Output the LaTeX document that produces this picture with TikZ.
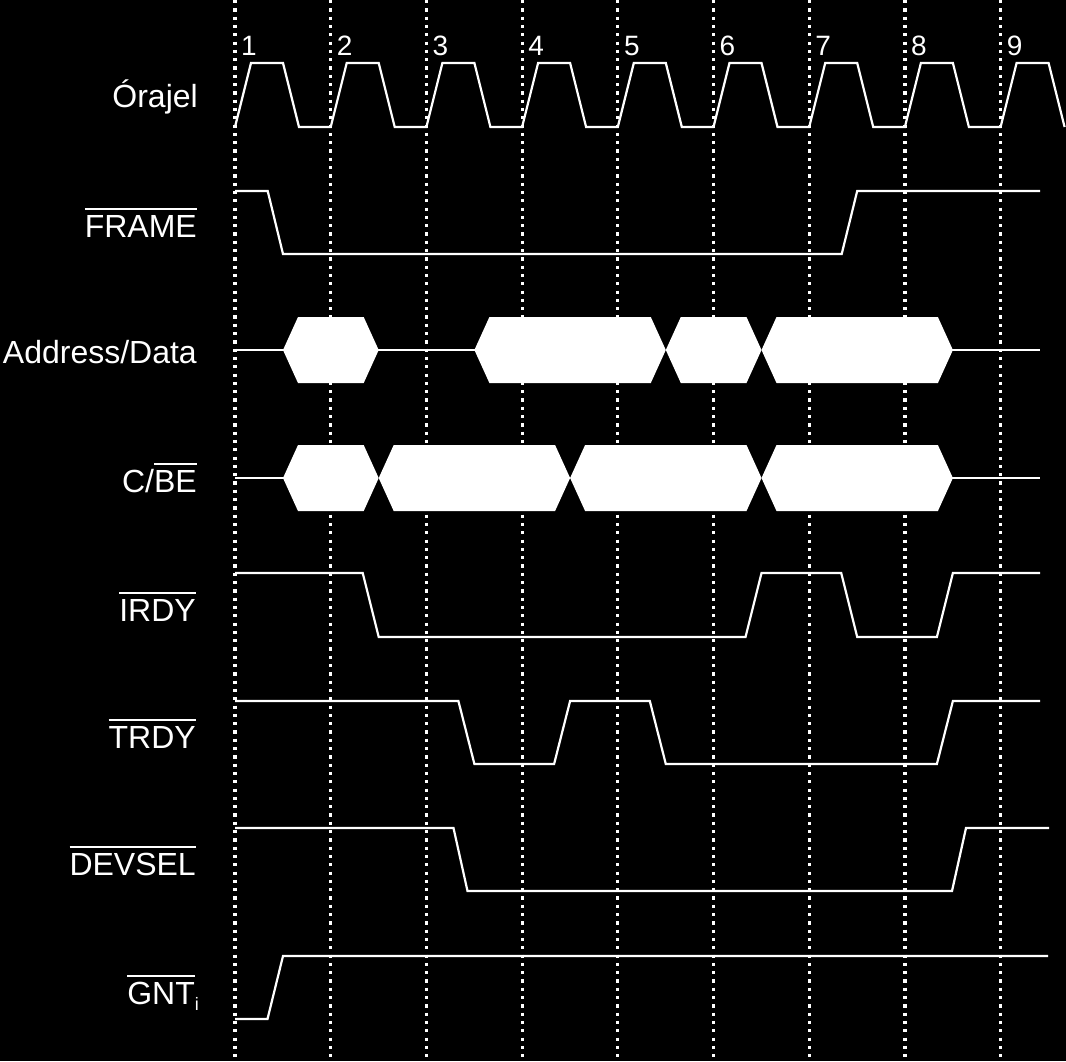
\documentclass[tikz,border=0pt]{standalone}
\usepackage{fontspec}
\setmainfont{Liberation Sans}
\newcommand\ovl[1]{\leavevmode\vbox{\hrule height 2pt\kern 4.5pt\hbox{#1}}}
\newcommand\busseg[3]{%
  \fill[white] (#1,#3) -- ({#1+15},{#3-33}) -- ({#2-15},{#3-33}) -- (#2,#3)
    -- ({#2-15},{#3+33}) -- ({#1+15},{#3+33}) -- cycle;}
\begin{document}
\begin{tikzpicture}[x=1pt,y=-1pt,
  sig/.style={white,line width=2.2pt,line join=miter},
  gridline/.style={white,line width=3.2pt,dash pattern=on 3.2pt off 5.1pt},
  lbl/.style={text=white,font=\fontsize{32}{36}\selectfont,anchor=base east,inner sep=0pt},
  num/.style={text=white,font=\fontsize{28}{32}\selectfont,anchor=base west,inner sep=0pt}]
\fill[black] (0,0) rectangle (1066,1061);
\useasboundingbox (0,0) rectangle (1066,1061);
% clock grid
\foreach \i in {0,...,8} \draw[gridline] ({235+95.7*\i},0) -- ({235+95.7*\i},1061);
\foreach \i [count=\n] in {0,...,8} \node[num] (n\n) at ({241+95.7*\i},55) {\n};
% labels
\node[lbl] (clk) at (198,107) {Órajel};
\node[lbl] (frame) at (197,237) {\ovl{FRAME}};
\node[lbl] (ad) at (197,363) {Address/Data};
\node[lbl] (cbe) at (197,492) {C/\ovl{BE}};
\node[lbl] (irdy) at (196,621) {\ovl{IRDY}};
\node[lbl] (trdy) at (196,748) {\ovl{TRDY}};
\node[lbl] (devsel) at (196,875) {\ovl{DEVSEL}};
\node[lbl] (gnt) at (199,1004) {\ovl{GNT}\raisebox{-6pt}{\fontsize{18}{18}\selectfont i}};
% clock
\draw[sig] (235,127) \foreach \i in {0,...,7} {
  -- ({235+95.7*\i+16},63) -- ({235+95.7*\i+48},63) -- ({235+95.7*\i+64},127) -- ({235+95.7*\i+95.7},127)}
  -- (1016.6,63) -- (1048.6,63) -- (1064.6,127);
% FRAME
\draw[sig] (235,191) -- (267.7,191) -- (283,254) -- (841.7,254) -- (857.2,191) -- (1040,191);
% Address/Data
\draw[sig] (235,350) -- (284,350);
\draw[sig] (378,350) -- (475,350);
\draw[sig] (952,350) -- (1040,350);
\busseg{283}{378.7}{350}
\busseg{474.4}{665.8}{350}
\busseg{665.8}{761.5}{350}
\busseg{761.5}{952.9}{350}
% C/BE
\draw[sig] (235,478) -- (284,478);
\draw[sig] (952,478) -- (1040,478);
\busseg{283}{378.7}{478}
\busseg{378.7}{570.1}{478}
\busseg{570.1}{761.5}{478}
\busseg{761.5}{952.9}{478}
% IRDY
\draw[sig] (235,573) -- (362.7,573) -- (378.7,637) -- (745.5,637) -- (761.5,573) -- (841.2,573)
  -- (857.2,637) -- (936.9,637) -- (952.9,573) -- (1040,573);
% TRDY
\draw[sig] (235,701) -- (458.4,701) -- (474.4,764) -- (554.1,764) -- (570.1,701) -- (649.8,701)
  -- (665.8,764) -- (936.9,764) -- (952.9,701) -- (1040,701);
% DEVSEL
\draw[sig] (235,828) -- (453.5,828) -- (467.5,891) -- (952,891) -- (966,828) -- (1049,828);
% GNT
\draw[sig] (235,1019) -- (267.5,1019) -- (283,956) -- (1048,956);
\end{tikzpicture}
\end{document}
